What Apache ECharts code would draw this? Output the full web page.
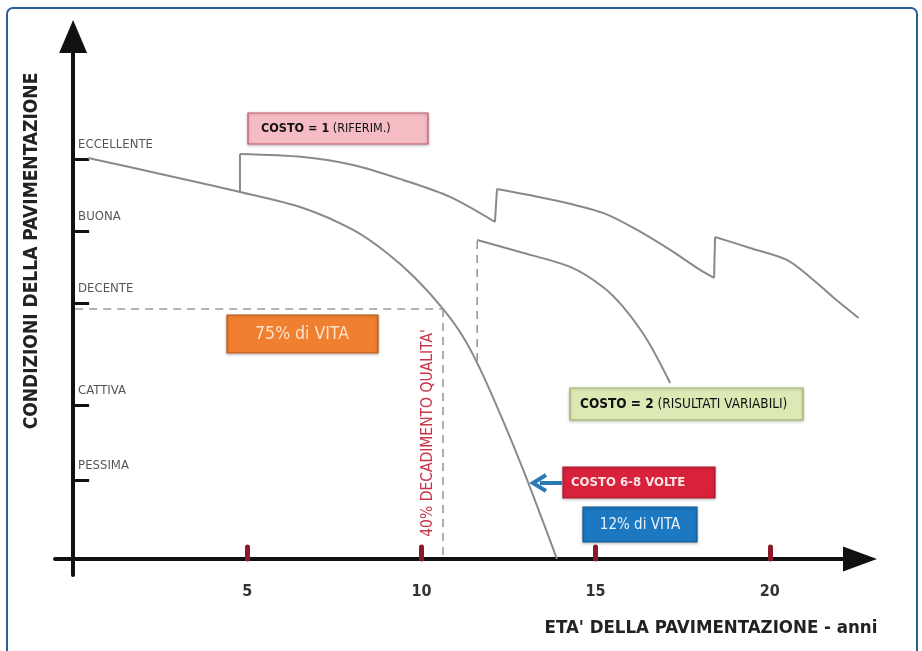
<!DOCTYPE html>
<html>
<head>
<meta charset="utf-8">
<script src="https://cdn.jsdelivr.net/npm/echarts@6/dist/echarts.min.js"></script>
<style>
  html, body { margin: 0; padding: 0; background: #fff; }
  #chart { width: 922px; height: 651px; }
</style>
</head>
<body>
<div id="chart"></div>
<script>
// condition levels (y) and age ticks (x, years)
const levelNames = ['ECCELLENTE', 'BUONA', 'DECENTE', 'CATTIVA', 'PESSIMA'];
const levelValues = [100, 82, 64, 38.5, 19.6];
const yearTicks = [5, 10, 15, 20];

// no maintenance: the curve drops to zero
const mainCurve = [[0.43, 100.25], [2.64, 96], [4.79, 91.75], [6.6, 87.75], [8.04, 82.25], [9.01, 76.5],
  [9.82, 70.25], [10.62, 62.5], [11.25, 54.75], [11.83, 44.75], [12.83, 24.25], [13.89, 0]];

// costo = 1: preventive works, three segments joined by jumps
const topA = [[4.79, 101.25], [6.6, 100.5], [8.04, 98.5], [9.47, 94.75], [10.82, 90.5], [12.11, 84.25]];
const topB = [[12.17, 92.5], [13.78, 89.75], [15.21, 86.5], [16.19, 82.25], [17.14, 77.25], [18.0, 72.25], [18.4, 70.25]];
const topC = [[18.43, 80.5], [19.43, 77.75], [20.49, 74.75], [21.15, 70.5], [21.81, 65.5], [22.55, 60.25]];
const jumps = [
  [[4.79, 91.75], [4.79, 101.25]],
  [[12.11, 84.25], [12.17, 92.5]],
  [[18.4, 70.25], [18.43, 80.5]]
];

// costo = 2: late rehabilitation
const costo2 = [[11.6, 79.75], [12.83, 76.75], [14.27, 73], [15.21, 68], [15.79, 63], [16.48, 54.75], [17.14, 44]];
const costo2Jump = [[11.6, 49.5], [11.6, 79.75]];

// 75% di vita reference lines
const lifeH = [[0.06, 62.5], [10.62, 62.5]];
const lifeV = [[10.62, 62.5], [10.62, 0]];

const FONT = "'Liberation Sans Narrow', 'DejaVu Sans Condensed', 'Liberation Sans', sans-serif";
const CURVE = '#8a8a8a';

const chart = echarts.init(document.getElementById('chart'));

const curveLine = (data, smooth) => ({
  type: 'line', data, symbol: 'none', smooth: smooth ? 0.3 : false, silent: true,
  lineStyle: { color: CURVE, width: 2 }
});
const dashLine = (data) => ({
  type: 'line', data, symbol: 'none', silent: true,
  lineStyle: { color: '#9a9a9a', width: 1.6, type: [8, 6] }
});

const series = [
  curveLine(mainCurve, true),
  curveLine(topA, true),
  curveLine(topB, true),
  curveLine(topC, true),
  curveLine(costo2, true),
  dashLine(costo2Jump),
  dashLine(lifeH),
  dashLine(lifeV),
  {
    // level names written above the y-axis ticks
    type: 'scatter', silent: true, symbolSize: 0,
    data: levelValues.map((v, i) => ({ value: [0, v], name: levelNames[i] })),
    label: { show: true, position: [5, -21], formatter: p => p.name,
      color: '#2a2a2a', fontSize: 13, fontFamily: FONT }
  }
];
jumps.forEach(j => series.push(curveLine(j, false)));

const box = (x, y, w, h, fill, stroke) => ({
  type: 'rect', shape: { x, y, width: w, height: h }, z: 10,
  style: { fill, stroke, lineWidth: 1.2, shadowBlur: 3, shadowColor: 'rgba(0,0,0,0.25)', shadowOffsetY: 1 }
});
const label = (x, y, text, opt, rotation) => ({
  type: 'text', x, y, z: 11, rotation: rotation || 0,
  style: Object.assign({ text, font: '12px ' + FONT, fill: '#111', align: 'center', verticalAlign: 'middle' }, opt)
});

const option = {
  animation: false,
  backgroundColor: '#fff',
  grid: { left: 55, right: 62, top: 36.5, bottom: 76 },
  xAxis: {
    type: 'value', min: -0.52, max: 22.59,
    axisLine: { onZero: true, symbol: ['none', 'triangle'], symbolSize: [25, 34],
      lineStyle: { color: '#111', width: 4 } },
    axisTick: { show: true, inside: true, length: 12, customValues: yearTicks,
      lineStyle: { color: '#8b1a2a', width: 5, cap: 'round' } },
    axisLabel: { customValues: yearTicks, margin: 9, color: '#333',
      fontSize: 16, fontFamily: FONT, fontWeight: 'bold' },
    splitLine: { show: false }
  },
  yAxis: {
    type: 'value', min: -4, max: 130.6,
    axisLine: { onZero: true, symbol: ['none', 'triangle'], symbolSize: [28, 33],
      lineStyle: { color: '#111', width: 4 } },
    axisTick: { show: true, inside: true, length: 16, customValues: levelValues,
      lineStyle: { color: '#111', width: 3 } },
    axisLabel: { show: false },
    splitLine: { show: false }
  },
  series,
  graphic: [
    // frame
    { type: 'rect', shape: { x: 7, y: 8, width: 910, height: 660, r: 6 }, z: -1,
      style: { fill: 'none', stroke: '#2b5f98', lineWidth: 2 } },
    // axis titles
    label(32, 251, 'CONDIZIONI DELLA PAVIMENTAZIONE', { font: 'bold 19px ' + FONT, fill: '#222' }, Math.PI / 2),
    label(711, 628, "ETA' DELLA PAVIMENTAZIONE - anni", { font: 'bold 18.5px ' + FONT, fill: '#222' }),
    // annotation boxes
    box(248, 113, 180, 31, '#f5bcc4', '#c4576c'),
    label(261, 129, '{b|COSTO = 1} (RIFERIM.)', { align: 'left', font: '12.5px ' + FONT,
      rich: { b: { font: 'bold 12.5px ' + FONT, fill: '#111' } } }),
    box(227, 315, 151, 38, '#f07f2f', '#b95a1e'),
    label(302, 334, '75% di VITA', { font: '17.5px ' + FONT, fill: '#fde3cc' }),
    box(570, 388, 233, 32, '#dde9b4', '#9fb36a'),
    label(580, 404, '{b|COSTO = 2} (RISULTATI VARIABILI)', { align: 'left', font: '13.5px ' + FONT,
      rich: { b: { font: 'bold 13.5px ' + FONT, fill: '#111' } } }),
    box(563, 467, 152, 31, '#d8213b', '#b01a30'),
    label(571, 483, 'COSTO 6-8 VOLTE', { align: 'left', font: 'bold 13px ' + FONT, fill: '#fbe3e6' }),
    box(583, 507, 114, 35, '#1b78c1', '#135e99'),
    label(640, 525, '12% di VITA', { font: '15px ' + FONT, fill: '#eaf3fb' }),
    // blue arrow
    { type: 'line', shape: { x1: 562, y1: 483, x2: 540, y2: 483 }, z: 10,
      style: { stroke: '#2a7ab8', lineWidth: 4 } },
    { type: 'polyline', shape: { points: [[546, 475], [533, 483], [546, 491]] }, z: 10,
      style: { stroke: '#2a7ab8', lineWidth: 4, fill: 'none' } },
    // rotated red note
    label(428, 433, "40% DECADIMENTO QUALITA'", { font: '15.5px ' + FONT, fill: '#c8344a' }, Math.PI / 2)
  ]
};

chart.setOption(option);
</script>
</body>
</html>
